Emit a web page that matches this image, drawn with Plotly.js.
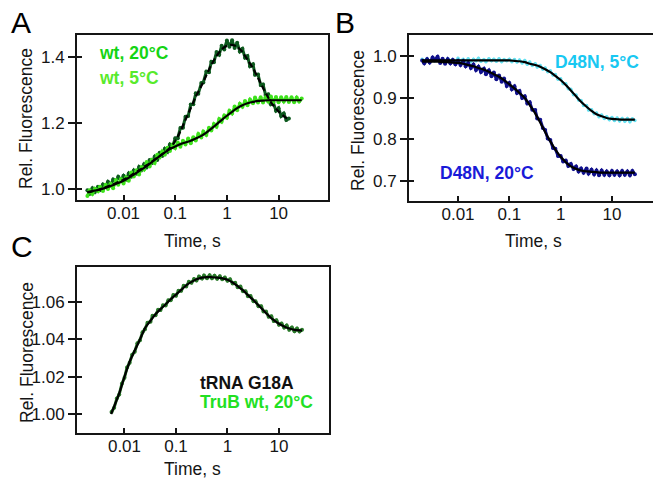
<!DOCTYPE html>
<html><head><meta charset="utf-8">
<script src="https://cdn.plot.ly/plotly-3.0.1.min.js"></script>
<style>html,body{margin:0;padding:0;background:#fff;overflow:hidden}#chart{width:653px;height:479px}</style>
</head><body><div id="chart"></div>
<script>
// ---- data (times in s) ----
const timeData = [0.0020,0.0022,0.0025,0.0028,0.0032,0.0035,0.0040,0.0045,0.0050,0.0056,0.0063,0.0071,0.0079,0.0089,
  0.010,0.0112,0.0126,0.0141,0.0158,0.0178,0.020,0.0224,0.025,0.028,0.032,0.035,0.040,0.045,0.050,0.056,0.063,0.071,0.079,0.089,
  0.10,0.112,0.126,0.141,0.158,0.178,0.20,0.224,0.25,0.28,0.32,0.35,0.40,0.45,0.50,0.56,0.63,0.71,0.79,0.89,
  1.0,1.12,1.26,1.41,1.58,1.78,2.0,2.24,2.5,2.8,3.2,3.5,4.0,4.5,5.0,5.6,6.3,7.1,7.9,8.9,
  10,11.2,12.6,14.1,15.8,17.8,20,22.4,25,28];
const timeFit = [0.002,0.0025,0.0032,0.004,0.005,0.0063,0.0079,0.01,0.0126,0.0158,0.02,0.025,0.032,0.04,0.05,0.063,0.079,
  0.1,0.126,0.158,0.2,0.25,0.32,0.4,0.5,0.63,0.79,1,1.26,1.58,2,2.5,3.2,4,5,6.3,7.9,10,12.6,15.8,20,25,28];
const timeDataC = [0.0056,0.0063,0.0071,0.0079,0.0089,
  0.010,0.0112,0.0126,0.0141,0.0158,0.0178,0.020,0.0224,0.025,0.028,0.032,0.035,0.040,0.045,0.050,0.056,0.063,0.071,0.079,0.089,
  0.10,0.112,0.126,0.141,0.158,0.178,0.20,0.224,0.25,0.28,0.32,0.35,0.40,0.45,0.50,0.56,0.63,0.71,0.79,0.89,
  1.0,1.12,1.26,1.41,1.58,1.78,2.0,2.24,2.5,2.8,3.2,3.5,4.0,4.5,5.0,5.6,6.3,7.1,7.9,8.9,
  10,11.2,12.6,14.1,15.8,17.8,20,22.4,25,28];
const timeFitC = [0.0055,0.0063,0.0079,0.01,0.0126,0.0158,0.02,0.025,0.032,0.04,0.05,0.063,0.079,0.1,0.126,0.158,0.2,0.25,
  0.32,0.4,0.5,0.63,0.79,1,1.26,1.58,2,2.5,3.2,4,5,6.3,7.9,10,12.6,15.8,20,25,28];

// Panel A: wt
const wt5Data = [0.979,0.996,0.985,1.001,0.993,1.007,0.994,1.013,1.000,1.016,1.002,1.027,1.013,1.030,1.017,1.035,1.025,1.050,1.038,1.057,
  1.044,1.066,1.059,1.082,1.068,1.088,1.079,1.104,1.096,1.114,1.104,1.125,1.115,1.135,1.124,1.141,1.128,1.146,1.135,1.153,
  1.139,1.157,1.147,1.167,1.156,1.174,1.164,1.186,1.177,1.197,1.189,1.212,1.204,1.223,1.216,1.237,1.229,1.250,1.239,1.258,
  1.249,1.267,1.254,1.271,1.260,1.277,1.262,1.278,1.262,1.278,1.265,1.280,1.264,1.279,1.263,1.278,1.265,1.279,1.264,1.278,
  1.263,1.277,1.265,1.274];
const wt5Fit = [0.991,0.994,0.997,1.001,1.006,1.012,1.018,1.025,1.034,1.044,1.054,1.064,1.076,1.088,1.100,1.111,1.121,1.129,1.136,1.141,
  1.146,1.153,1.161,1.171,1.183,1.196,1.209,1.222,1.234,1.245,1.254,1.260,1.264,1.267,1.268,1.269,1.269,1.269,1.269,1.269,1.269,1.269,1.269];
const wt20Data = [0.996,0.985,1.002,0.991,1.007,0.996,1.014,1.007,1.022,1.012,1.029,1.021,1.037,1.027,1.040,1.028,1.047,1.037,1.056,1.046,
  1.067,1.058,1.075,1.066,1.088,1.078,1.098,1.088,1.110,1.100,1.122,1.113,1.135,1.128,1.154,1.154,1.185,1.186,1.219,1.221,
  1.256,1.257,1.290,1.289,1.321,1.323,1.356,1.354,1.386,1.384,1.415,1.407,1.434,1.423,1.450,1.431,1.451,1.427,1.443,1.417,
  1.425,1.398,1.403,1.372,1.378,1.346,1.347,1.315,1.317,1.285,1.287,1.257,1.262,1.237,1.245,1.221,1.229,1.209,1.214];
const wt20Fit = [0.990,0.993,0.997,1.002,1.008,1.014,1.021,1.028,1.037,1.047,1.057,1.067,1.078,1.089,1.100,1.111,1.125,1.145,1.175,1.210,
  1.245,1.280,1.312,1.345,1.376,1.403,1.423,1.434,1.437,1.431,1.415,1.392,1.366,1.337,1.306,1.277,1.253,1.235,1.221,1.210];

// Panel B: D48N
const d48n20Data = [0.989,0.982,0.992,0.984,0.996,0.990,0.998,0.983,0.993,0.981,0.992,0.982,0.990,0.980,0.988,0.978,0.987,0.975,0.983,0.971,
  0.979,0.966,0.974,0.961,0.969,0.956,0.965,0.951,0.960,0.944,0.953,0.938,0.946,0.928,0.935,0.920,0.927,0.911,0.916,0.899,
  0.903,0.886,0.889,0.871,0.870,0.850,0.847,0.827,0.822,0.802,0.798,0.779,0.777,0.760,0.760,0.747,0.749,0.736,0.741,0.729,
  0.735,0.723,0.730,0.720,0.730,0.718,0.727,0.716,0.725,0.714,0.725,0.715,0.723,0.714,0.724,0.715,0.723,0.714,0.724,0.715,
  0.723,0.714,0.724,0.716];
const d48n20Fit = [0.986,0.986,0.986,0.986,0.985,0.985,0.984,0.983,0.981,0.978,0.975,0.971,0.967,0.962,0.956,0.950,0.942,0.932,0.922,0.911,
  0.899,0.882,0.862,0.840,0.817,0.795,0.775,0.758,0.745,0.735,0.729,0.725,0.723,0.722,0.721,0.720,0.720,0.720,0.720,0.720,0.720,0.720,0.720];
const d48n5Data = [0.992,0.987,0.993,0.986,0.991,0.988,0.994,0.987,0.992,0.986,0.993,0.988,0.991,0.986,0.994,0.988,0.992,0.987,0.993,0.986,
  0.992,0.988,0.994,0.987,0.991,0.986,0.993,0.988,0.992,0.987,0.993,0.986,0.991,0.988,0.992,0.986,
  0.991,0.985,0.990,0.983,0.989,0.980,0.985,0.977,0.981,0.973,0.977,0.968,0.971,0.962,0.964,0.954,0.955,0.944,0.945,0.933,
  0.933,0.921,0.920,0.907,0.906,0.894,0.893,0.881,0.881,0.870,0.871,0.861,0.863,0.854,0.858,0.850,0.854,0.847,0.852,0.845,
  0.851,0.844,0.850,0.843,0.850,0.842,0.849,0.845];
const d48n5Fit = [0.990,0.989,0.989,0.989,0.989,0.989,0.989,0.989,0.989,0.989,0.989,0.989,0.989,0.989,0.989,0.989,0.989,0.989,
  0.988,0.987,0.985,0.981,0.978,0.974,0.968,0.961,0.952,0.942,0.930,0.917,0.903,0.890,0.878,0.868,0.860,0.855,0.851,0.849,0.848,0.847,0.847,0.847,0.847];

// Panel C: tRNA G18A
const g18aData = [1.0010,1.0034,1.0083,1.0105,1.0162,1.0194,1.0249,1.0275,1.0318,1.0334,1.0379,1.0395,1.0438,1.0454,1.0489,1.0495,
  1.0526,1.0529,1.0559,1.0557,1.0583,1.0582,1.0610,1.0610,1.0638,1.0634,1.0661,1.0660,1.0687,1.0684,1.0709,1.0703,1.0724,1.0716,
  1.0737,1.0726,1.0742,1.0728,1.0744,1.0728,1.0741,1.0725,1.0739,1.0722,1.0732,1.0714,1.0722,1.0700,1.0703,1.0679,1.0683,1.0658,
  1.0658,1.0631,1.0633,1.0605,1.0605,1.0577,1.0578,1.0550,1.0549,1.0521,1.0524,1.0498,1.0503,1.0478,1.0485,1.0463,1.0475,1.0452,
  1.0464,1.0444,1.0458,1.0442,1.0451];
const g18aFit = [1.000,1.004,1.011,1.020,1.028,1.034,1.040,1.046,1.050,1.0535,1.0562,1.0588,1.0615,1.064,1.0665,1.069,1.0708,1.0722,
  1.0731,1.0734,1.0733,1.0731,1.0727,1.0720,1.0705,1.0685,1.0663,1.0637,1.0610,1.0583,1.0555,1.0527,1.0503,1.0484,1.0469,1.0458,1.0451,1.0448,1.0447];

// ticks
const xTickVals = [0.01, 0.1, 1, 10];
const xTickText = ['0.01', '0.1', '1', '10'];
const yTicksA = [1.0, 1.2, 1.4];
const yTicksB = [0.7, 0.8, 0.9, 1.0];
const yTicksC = [1.00, 1.02, 1.04, 1.06];

// ---- layout helpers ----
const W = 653, H = 479;
const FONT = 'Liberation Sans, Arial, Helvetica, sans-serif';
const INK = '#151515';
const px = v => v / W;
const py = v => 1 - v / H;

function dataLine(x, y, color, xa, ya, w, ms) {
  return {x: x, y: y, xaxis: xa, yaxis: ya, type: 'scatter', mode: 'lines+markers',
    line: {color: color, width: w || 2}, marker: {color: color, size: ms || 4, symbol: 'circle', line: {width: 0}},
    hoverinfo: 'skip', showlegend: false};
}
function fitLine(x, y, xa, ya, dash) {
  return {x: x, y: y, xaxis: xa, yaxis: ya, type: 'scatter', mode: 'lines',
    line: {color: '#000', width: 2.2, shape: 'spline', smoothing: 0.7, dash: dash || 'solid'},
    hoverinfo: 'skip', showlegend: false};
}
function dummy(xa, ya) {
  return {x: [], y: [], xaxis: xa, yaxis: ya, type: 'scatter', mode: 'lines', hoverinfo: 'skip', showlegend: false};
}

const traces = [
  dataLine(timeData, wt20Data, '#0d5a1e', 'x', 'y', 3, 4),
  dataLine(timeData, wt5Data, '#3ee21c', 'x', 'y', 3, 4),
  fitLine(timeFit, wt5Fit, 'x', 'y'),
  fitLine(timeFit, wt20Fit, 'x', 'y', '6px,3px'),
  dataLine(timeData, d48n5Data, '#66e2f2', 'x2', 'y2', 2.5, 3.5),
  dataLine(timeData, d48n20Data, '#10108c', 'x2', 'y2', 3, 4),
  fitLine(timeFit, d48n5Fit, 'x2', 'y2'),
  fitLine(timeFit, d48n20Fit, 'x2', 'y2'),
  dataLine(timeDataC, g18aData, '#2a7a2a', 'x3', 'y3', 3, 4),
  fitLine(timeFitC, g18aFit, 'x3', 'y3'),
  dummy('x', 'y4'), dummy('x2', 'y5'), dummy('x3', 'y6')
];

function xAxis(domain, range, anchor, mirror) {
  return {type: 'log', domain: domain, range: range, anchor: anchor,
    tickmode: 'array', tickvals: xTickVals, ticktext: xTickText,
    ticks: 'inside', ticklen: 5, tickwidth: 2, tickcolor: INK,
    showline: true, linewidth: 2, linecolor: INK, mirror: mirror,
    showgrid: false, zeroline: false, ticklabelstandoff: -3,
    tickfont: {family: FONT, size: 17, color: INK}, fixedrange: true};
}
function yAxis(domain, range, anchor, vals, fmt, mirror) {
  return {domain: domain, range: range, anchor: anchor,
    tickmode: 'array', tickvals: vals, tickformat: fmt,
    ticks: 'outside', ticklen: 7, tickwidth: 2, tickcolor: INK,
    showline: true, linewidth: 2, linecolor: INK, mirror: mirror,
    showgrid: false, zeroline: false,
    tickfont: {family: FONT, size: 17, color: INK}, fixedrange: true};
}
function yInner(over, range, anchor, vals) {
  return {overlaying: over, range: range, anchor: anchor, side: 'left',
    tickmode: 'array', tickvals: vals, ticks: 'inside', ticklen: 5, tickwidth: 2, tickcolor: INK,
    showticklabels: false, showline: false, showgrid: false, zeroline: false, fixedrange: true};
}

const rA = [0.9667, 1.4667], rB = [0.652, 1.050], rC = [0.9898, 1.0788];

function ann(text, x, y, opts) {
  return Object.assign({text: text, x: px(x), y: py(y), xref: 'paper', yref: 'paper',
    showarrow: false, xanchor: 'center', yanchor: 'middle',
    font: {family: FONT, size: 17.5, color: INK}}, opts || {});
}
const B = s => '<b>' + s + '</b>';

const annotations = [
  ann('A', 21, 23, {font: {family: FONT, size: 30, color: '#000'}}),
  ann('B', 345, 23, {font: {family: FONT, size: 30, color: '#000'}}),
  ann('C', 22, 246, {font: {family: FONT, size: 30, color: '#000'}}),
  ann('Time, s', 193, 241),
  ann('Time, s', 533, 241),
  ann('Time, s', 192, 469),
  ann('Rel. Fluorescence', 26, 119, {textangle: -90}),
  ann('Rel. Fluorescence', 358, 121, {textangle: -90}),
  ann('Rel. Fluorescence', 27, 353, {textangle: -90}),
  ann(B('wt, 20°C'), 97, 53, {xanchor: 'left', font: {family: FONT, size: 17.5, color: '#14d414'}}),
  ann(B('wt, 5°C'), 97, 78, {xanchor: 'left', font: {family: FONT, size: 17.5, color: '#58ea2c'}}),
  ann(B('D48N, 5°C'), 553, 62, {xanchor: 'left', font: {family: FONT, size: 17.5, color: '#18c8f2'}}),
  ann(B('D48N, 20°C'), 438, 173, {xanchor: 'left', font: {family: FONT, size: 17.5, color: '#1a1ad8'}}),
  ann(B('tRNA G18A'), 198, 383, {xanchor: 'left', font: {family: FONT, size: 17.5, color: '#111'}}),
  ann(B('TruB wt, 20°C'), 198, 402, {xanchor: 'left', font: {family: FONT, size: 17.5, color: '#22e022'}})
];

const layout = {
  width: W, height: H, margin: {l: 0, r: 0, t: 0, b: 0},
  paper_bgcolor: '#fff', plot_bgcolor: 'rgba(0,0,0,0)', showlegend: false,
  xaxis: xAxis([px(77), px(328)], [-2.9, 1.956], 'y', true),
  yaxis: yAxis([py(200), py(35)], rA, 'x', yTicksA, '.1f', true),
  xaxis2: xAxis([px(409), 1], [-2.955, 1.80], 'y2', true),
  yaxis2: yAxis([py(201), py(35)], rB, 'x2', yTicksB, '.1f', false),
  xaxis3: xAxis([px(77), px(329)], [-2.922, 1.971], 'y3', true),
  yaxis3: yAxis([py(433), py(267)], rC, 'x3', yTicksC, '.2f', true),
  yaxis4: yInner('y', rA, 'x', yTicksA),
  yaxis5: yInner('y2', rB, 'x2', yTicksB),
  yaxis6: yInner('y3', rC, 'x3', yTicksC),
  annotations: annotations
};

Plotly.newPlot('chart', traces, layout, {displayModeBar: false, staticPlot: true});
</script>
</body></html>
